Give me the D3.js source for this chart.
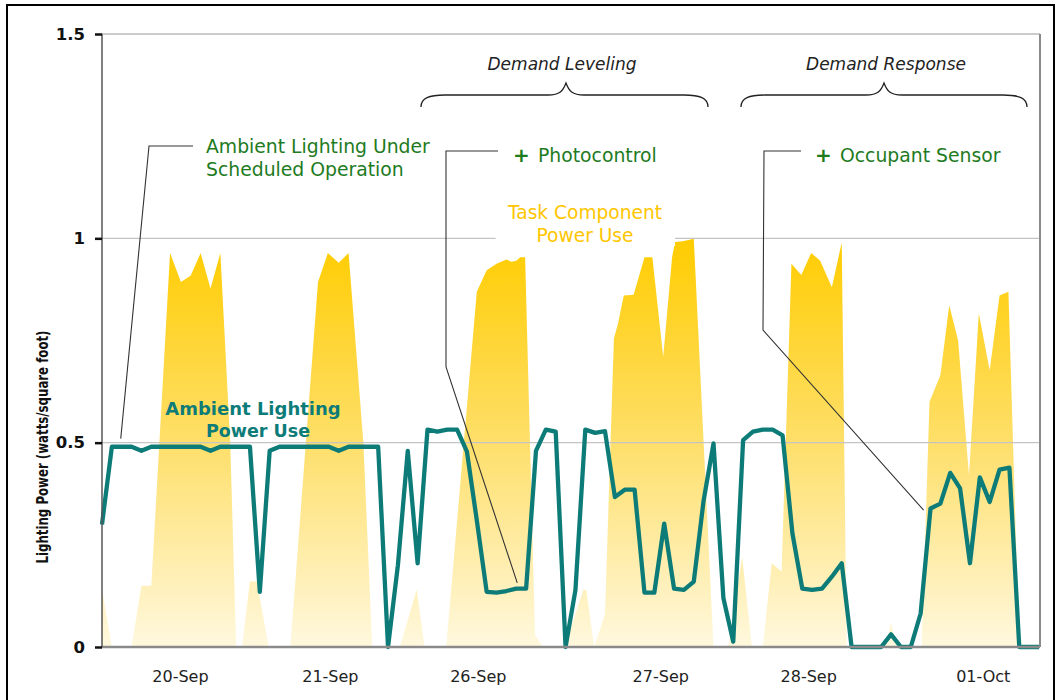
<!DOCTYPE html>
<html><head><meta charset="utf-8">
<script src="https://cdn.jsdelivr.net/npm/d3@7"></script>
<style>
html,body{margin:0;padding:0;background:#fff;}
svg{display:block;font-family:"DejaVu Sans",Verdana,sans-serif;}
</style></head>
<body>
<svg id="c" width="1061" height="700"></svg>
<script>
// ---- DATA ----
// ambient lighting power use (one sample per slot, 16 slots per day, 96 slots)
const ambient = [
 0.30,0.49,0.49,0.49,0.48,0.49,0.49,0.49,0.49,0.49,0.49,0.48,0.49,0.49,0.49,0.49,
 0.135,0.48,0.49,0.49,0.49,0.49,0.49,0.49,0.48,0.49,0.49,0.49,0.49,0.0,0.20,0.48,
 0.205,0.532,0.527,0.532,0.532,0.478,0.31,0.135,0.133,0.137,0.143,0.143,0.48,0.532,0.527,0.0,
 0.139,0.532,0.524,0.528,0.367,0.385,0.385,0.133,0.133,0.302,0.143,0.14,0.16,0.359,0.498,0.12,
 0.013,0.506,0.527,0.532,0.532,0.518,0.278,0.143,0.14,0.143,0.172,0.205,0.0,0.0,0.0,0.0,
 0.031,0.0,0.0,0.082,0.339,0.351,0.426,0.388,0.205,0.415,0.355,0.434,0.439,0.0,0.0,0.0
];
// task component power use (slot position, value)
const taskSlot = [0,1.0,3.0,4.0,5.0,6.9,8.0,9.0,10.0,11.0,12.0,13.0,13.6,14.2,15.0,15.7,16.9,
 19.1,21.9,22.9,24.0,25.0,26.5,27.4,30.2,31.9,32.7,34.9,38.0,39.0,40.0,41.0,41.5,42.0,42.4,42.9,43.9,44.7,
 46.9,48.8,49.1,49.9,51.0,51.9,52.3,52.9,53.9,55.0,55.8,56.9,57.8,58.1,58.9,60.0,62.0,
 63.5,64.9,65.9,67.0,67.9,68.9,69.9,70.9,71.9,72.8,74.0,75.0,75.5,
 79.4,80.0,80.6,83.1,83.9,85.0,85.9,86.8,87.9,88.9,90.0,91.0,91.9,93.0,95];
const taskValue = [0.14,0,0,0.15,0.15,0.964,0.893,0.909,0.964,0.877,0.964,0.5,0,0,0.16,0.16,0,
 0,0.893,0.964,0.94,0.964,0.5,0,0,0.14,0,0,0.869,0.922,0.938,0.948,0.943,0.945,0.954,0.954,0.03,0,
 0,0.14,0.14,0,0.08,0.755,0.79,0.86,0.862,0.954,0.954,0.71,0.954,0.991,0.993,0.999,0,
 0,0.22,0,0,0.205,0.185,0.938,0.91,0.964,0.946,0.88,0.99,0,
 0,0.058,0,0,0.6,0.665,0.836,0.75,0.42,0.816,0.677,0.86,0.869,0,0];
// x-axis labels and their slot positions
const dayLabels = ["20-Sep","21-Sep","26-Sep","27-Sep","28-Sep","01-Oct"];
const daySlots = [7.9,23.1,38.1,56.6,71.6,89.3];
const yTicks = [0,0.5,1,1.5];

// ---- CHART ----
const svg = d3.select("#c");
const L=102,R=1039,T=34,B=647;
const x = d3.scaleLinear().domain([0,95]).range([L,R]);
const y = d3.scaleLinear().domain([0,1.5]).range([B,T]);

// outer frame
svg.append("rect").attr("x",7).attr("y",5).attr("width",1047).attr("height",705)
  .attr("fill","none").attr("stroke","#000").attr("stroke-width",2);

const defs = svg.append("defs");
const g = defs.append("linearGradient").attr("id","gold").attr("gradientUnits","userSpaceOnUse")
  .attr("x1",0).attr("x2",0).attr("y1",y(1)).attr("y2",y(0));
g.append("stop").attr("offset","0").attr("stop-color","#FFCC00");
g.append("stop").attr("offset","0.5").attr("stop-color","#FEDF6A");
g.append("stop").attr("offset","1").attr("stop-color","#FFF8DE");

// task area
const taskData = taskSlot.map((s,i)=>({s,v:taskValue[i]}));
svg.append("path").datum(taskData)
  .attr("fill","url(#gold)")
  .attr("d",d3.area().x(d=>x(d.s)).y0(y(0)).y1(d=>y(d.v)));

// gridlines
svg.append("g").selectAll("line").data([0.5,1]).join("line")
  .attr("x1",L).attr("x2",R).attr("y1",d=>y(d)).attr("y2",d=>y(d))
  .attr("stroke","#c4c4c4").attr("stroke-width",1.2);
svg.append("line").attr("x1",L).attr("x2",R+1).attr("y1",y(1.5)).attr("y2",y(1.5))
  .attr("stroke","#9a9a9a").attr("stroke-width",1.2);
svg.append("line").attr("x1",R+1).attr("x2",R+1).attr("y1",y(1.5)).attr("y2",y(0))
  .attr("stroke","#8a8a8a").attr("stroke-width",2);

// white box behind task label
svg.append("rect").attr("x",x(39.9)).attr("y",196).attr("width",x(58.1)-x(39.9)).attr("height",50)
  .attr("fill","#fff");

// leader lines
const leader = (pts)=>svg.append("path").attr("d",d3.line()(pts))
  .attr("fill","none").attr("stroke","#333").attr("stroke-width",1.1);
leader([[193,146],[149,146],[x(1.9),y(0.51)]]);
leader([[498,151],[446,151],[446,367],[x(42.1),y(0.157)]]);
leader([[801,151],[764,151],[763,330],[x(83.3),y(0.335)]]);

// ambient line
svg.append("path").datum(ambient)
  .attr("fill","none").attr("stroke","#0d7c79").attr("stroke-width",4.3)
  .attr("stroke-linejoin","round")
  .attr("d",d3.line().x((d,i)=>x(i)).y(d=>y(d)));

// axes
svg.append("line").attr("x1",L).attr("x2",R+1).attr("y1",B).attr("y2",B)
  .attr("stroke","#8a8a8a").attr("stroke-width",2.5);
svg.append("line").attr("x1",L).attr("x2",L).attr("y1",T).attr("y2",B)
  .attr("stroke","#555").attr("stroke-width",1.5);
const ya = svg.append("g").attr("transform",`translate(${L},0)`)
  .call(d3.axisLeft(y).tickValues(yTicks).tickFormat(d3.format("")).tickSize(7).tickPadding(10));
ya.select(".domain").remove();
ya.selectAll(".tick line").attr("stroke","#111").attr("stroke-width",2.5);
ya.selectAll(".tick text").attr("font-family","DejaVu Sans").attr("font-weight","bold")
  .attr("font-size",16.5).attr("fill","#111");
const xa = svg.append("g").attr("transform",`translate(0,${B})`)
  .call(d3.axisBottom(x).tickValues(daySlots).tickFormat((d,i)=>dayLabels[i]).tickSize(0).tickPadding(24));
xa.select(".domain").remove();
xa.selectAll(".tick text").attr("font-family","DejaVu Sans").attr("font-size",16).attr("fill","#222");

// y axis title
svg.append("text").attr("transform","translate(48,447) rotate(-90)")
  .attr("text-anchor","middle").attr("font-weight","bold").attr("font-size",16.5)
  .attr("textLength",233).attr("lengthAdjust","spacingAndGlyphs")
  .attr("fill","#111").text("Lighting Power (watts/square foot)");

// annotations
const txt=(xx,yy,s,opt={})=>svg.append("text").attr("x",xx).attr("y",yy)
  .attr("font-size",opt.size||18.8).attr("fill",opt.fill||"#1e7b1e")
  .attr("text-anchor",opt.anchor||"start").attr("font-weight",opt.weight||"normal")
  .attr("font-style",opt.style||"normal").text(s);
txt(206,153,"Ambient Lighting Under");
txt(206,176,"Scheduled Operation");
txt(513,162,"+",{weight:"bold",size:20});
txt(538,162,"Photocontrol");
txt(815,162,"+",{weight:"bold",size:20});
txt(840,162,"Occupant Sensor");
txt(585,219,"Task Component",{fill:"#FFC600",anchor:"middle",size:18.6});
txt(585,242,"Power Use",{fill:"#FFC600",anchor:"middle",size:18.6});
txt(253,415,"Ambient Lighting",{fill:"#0d7c79",anchor:"middle",weight:"bold",size:18});
txt(258,437,"Power Use",{fill:"#0d7c79",anchor:"middle",weight:"bold",size:17.5});
txt(562,70,"Demand Leveling",{fill:"#222",anchor:"middle",style:"italic",size:17});
txt(886,70,"Demand Response",{fill:"#222",anchor:"middle",style:"italic",size:17});

// braces
function brace(x0,x1,xm){
  const yE=107,yM=95,yT=83;
  return `M${x0},${yE} C${x0},${yM+3} ${x0+8},${yM} ${x0+24},${yM} L${xm-18},${yM} C${xm-6},${yM} ${xm-3},${yM-4} ${xm},${yT}`+
         ` C${xm+3},${yM-4} ${xm+6},${yM} ${xm+18},${yM} L${x1-24},${yM} C${x1-8},${yM} ${x1},${yM+3} ${x1},${yE}`;
}
svg.append("path").attr("d",brace(421,708,566)).attr("fill","none").attr("stroke","#222").attr("stroke-width",1.3);
svg.append("path").attr("d",brace(741,1027,884)).attr("fill","none").attr("stroke","#222").attr("stroke-width",1.3);
</script>
</body></html>
